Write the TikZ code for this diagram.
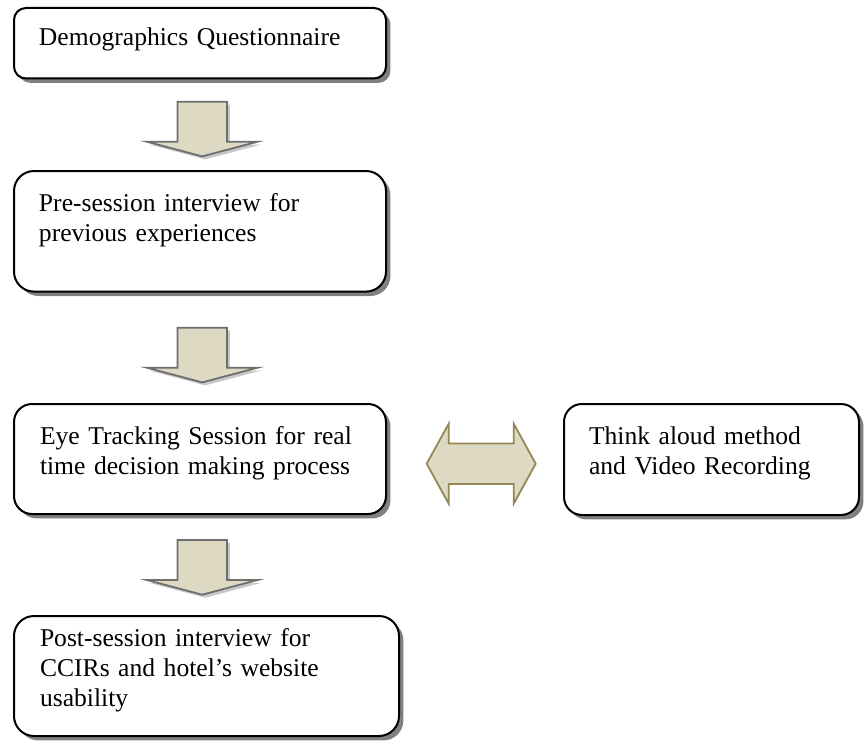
\documentclass[tikz,border=0pt]{standalone}
\usepackage{fontspec}
\setmainfont{Liberation Serif}
\usetikzlibrary{shadows}
\definecolor{boxshadow}{RGB}{128,128,128}
\definecolor{arrowfill}{RGB}{221,217,195}
\definecolor{arrowline}{RGB}{110,110,110}
\definecolor{arrowshade}{RGB}{200,200,200}
\definecolor{arrowolive}{RGB}{147,137,83}

\begin{document}
\begin{tikzpicture}[x=0.5pt, y=-0.5pt,
  stage/.style={draw, line width=1pt, fill=white, anchor=north west, align=left,
    inner xsep=12.5pt, inner ysep=0pt, font=\fontsize{12.8}{15}\selectfont,
    drop shadow={shadow xshift=2.2pt, shadow yshift=-2.2pt, fill=boxshadow, opacity=1}},
  downarrow/.pic={
    \fill[arrowshade] (-21.75,3) -- (27.75,3) -- (27.75,43) -- (58.4,43) -- (3,57.7)
      -- (-52.4,43) -- (-21.75,43) -- cycle;
    \filldraw[fill=arrowfill, draw=arrowline, line width=0.9pt] (-24.75,0) -- (24.75,0)
      -- (24.75,40) -- (55.4,40) -- (0,54.7) -- (-55.4,40) -- (-24.75,40) -- cycle;
  }]
\useasboundingbox (0,0) rectangle (866,749);

% the steps of the session
\node[stage, text width=161pt, text height=19pt, text depth=16.25pt, rounded corners=6pt]
  (demo) at (13,7) {Demographics Questionnaire};
\node[stage, text width=161pt, text height=20.3pt, text depth=40pt, rounded corners=10pt]
  (pre) at (13,170) {Pre-session interview for\\previous experiences};
\node[stage, text width=160pt, inner xsep=13pt, text height=20pt, text depth=35pt, rounded corners=9pt]
  (eye) at (13,403) {Eye Tracking Session for real\\time decision making process};
\node[stage, text width=166.5pt, inner xsep=13pt, text height=15.35pt, text depth=44.65pt, rounded corners=10pt]
  (post) at (13,615) {Post-session interview for\\CCIRs and hotel's website\\usability};
\node[stage, text width=122.5pt, text height=20pt, text depth=35.5pt, rounded corners=9pt]
  (think) at (563,403) {Think aloud method\\and Video Recording};

% block arrows
\pic at (202.2,101.7) {downarrow};
\pic at (202.2,327.7) {downarrow};
\pic at (202.2,540) {downarrow};

\filldraw[fill=arrowfill, draw=arrowolive, line width=0.9pt, shift={(481.2,463.7)}]
  (-54.5,0) -- (-32.5,-40) -- (-32.5,-20.3) -- (32.5,-20.3) -- (32.5,-40) -- (54.5,0)
  -- (32.5,40) -- (32.5,20.3) -- (-32.5,20.3) -- (-32.5,40) -- cycle;
%\draw (current bounding box.south west) rectangle (current bounding box.north east);
\end{tikzpicture}
\end{document}
